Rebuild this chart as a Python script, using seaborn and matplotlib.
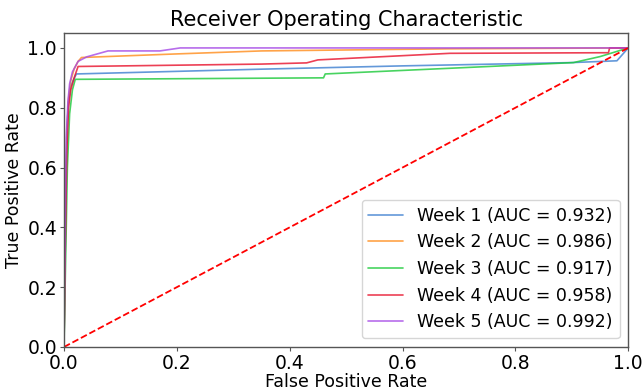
import numpy as np
import pandas as pd
import matplotlib
matplotlib.use("Agg")
import matplotlib.pyplot as plt
import seaborn as sns

weeks = ["Week 1", "Week 2", "Week 3", "Week 4", "Week 5"]
aucs = [0.932, 0.986, 0.917, 0.958, 0.992]

fpr_w1 = [0, 0.002, 0.004, 0.006, 0.008, 0.012, 0.016, 0.022, 0.35, 0.6, 0.9, 0.98, 1.0]
tpr_w1 = [0, 0.3, 0.6, 0.75, 0.82, 0.87, 0.89, 0.913, 0.929, 0.94, 0.951, 0.957, 1.0]

fpr_w2 = [0, 0.002, 0.005, 0.008, 0.012, 0.018, 0.025, 0.031, 0.2, 0.35, 0.68, 1.0]
tpr_w2 = [0, 0.35, 0.7, 0.83, 0.89, 0.93, 0.955, 0.968, 0.98, 0.99, 0.997, 1.0]

fpr_w3 = [0, 0.003, 0.006, 0.01, 0.015, 0.02, 0.46, 0.463, 0.684, 0.903, 0.95, 1.0]
tpr_w3 = [0, 0.3, 0.6, 0.78, 0.86, 0.895, 0.9, 0.913, 0.932, 0.951, 0.971, 1.0]

fpr_w4 = [0, 0.002, 0.005, 0.008, 0.012, 0.018, 0.025, 0.35, 0.43, 0.45, 0.684, 0.965, 0.967, 1.0]
tpr_w4 = [0, 0.3, 0.65, 0.8, 0.86, 0.9, 0.938, 0.946, 0.95, 0.96, 0.982, 0.984, 1.0, 1.0]

fpr_w5 = [0, 0.002, 0.004, 0.007, 0.01, 0.015, 0.025, 0.04, 0.078, 0.17, 0.206, 1.0]
tpr_w5 = [0, 0.4, 0.7, 0.82, 0.88, 0.92, 0.955, 0.97, 0.99, 0.99, 1.0, 1.0]

fprs = [fpr_w1, fpr_w2, fpr_w3, fpr_w4, fpr_w5]
tprs = [tpr_w1, tpr_w2, tpr_w3, tpr_w4, tpr_w5]

rows = []
for w, a, f, t in zip(weeks, aucs, fprs, tprs):
    lab = f"{w} (AUC = {a:.3f})"
    for i, (x, y) in enumerate(zip(f, t)):
        rows.append({"label": lab, "order": i, "fpr": x, "tpr": y})
df = pd.DataFrame(rows)
labels = [f"{w} (AUC = {a:.3f})" for w, a in zip(weeks, aucs)]

sns.set_style("white")
plt.rcParams["font.family"] = ["DejaVu Sans"]
plt.rcParams["text.color"] = "black"
plt.rcParams["axes.labelcolor"] = "black"
plt.rcParams["xtick.color"] = "black"
plt.rcParams["ytick.color"] = "black"

fig = plt.figure(figsize=(6.43, 3.88), dpi=100)
ax = fig.add_axes([0.0995, 0.1057, 0.8775, 0.8093])

pal = ["#3c7fd0", "#ff8c1a", "#1ac938", "#e8102a", "#a548e6"]
sns.lineplot(data=df, x="fpr", y="tpr", hue="label", hue_order=labels,
             palette=pal, sort=False, estimator=None, units="label",
             linewidth=1.2, alpha=0.8, ax=ax)
ax.plot([0, 1], [0, 1], "r--", linewidth=1.3)

ax.set_xlim(0, 1)
ax.set_ylim(0, 1.05)
ax.set_xticks([0, 0.2, 0.4, 0.6, 0.8, 1.0])
ax.set_yticks([0, 0.2, 0.4, 0.6, 0.8, 1.0])
ax.tick_params(axis="both", labelsize=13.5, length=3, width=0.8,
               pad=2, left=True, bottom=True)
ax.tick_params(axis="both", color="#555555")
for s in ax.spines.values():
    s.set_color("#555555")
    s.set_linewidth(1.0)
ax.set_xlabel("False Positive Rate", fontsize=12.5, labelpad=0)
ax.set_ylabel("True Positive Rate", fontsize=12.5, labelpad=3)
ax.set_title("Receiver Operating Characteristic", fontsize=15, pad=5)
leg = ax.legend(loc="lower right", fontsize=12.5, frameon=True)

fig.savefig("out.png", dpi=100)
